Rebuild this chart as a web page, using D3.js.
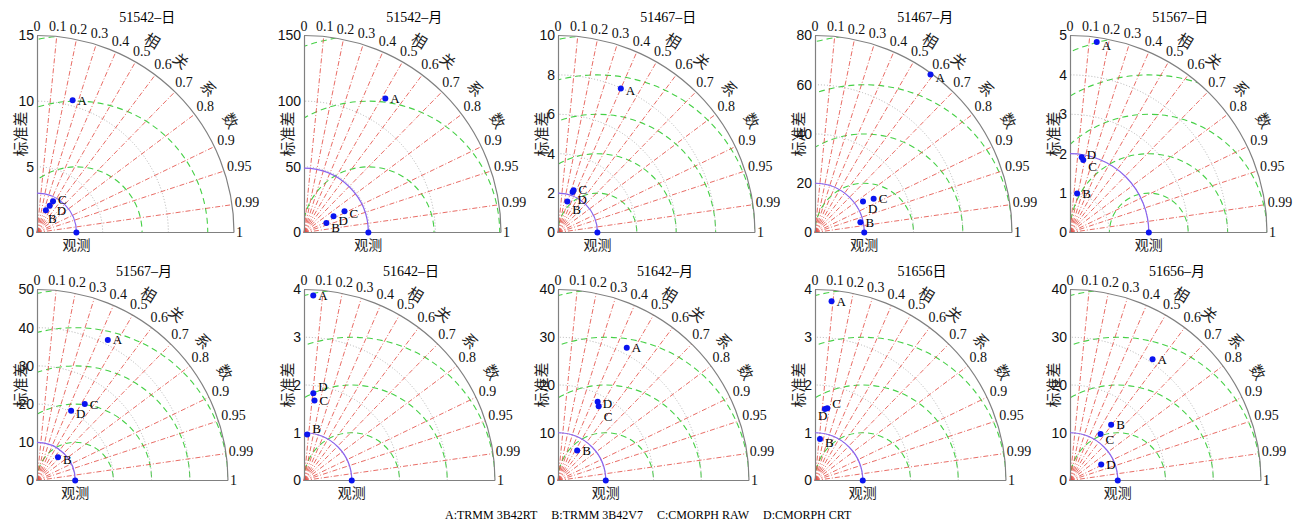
<!DOCTYPE html>
<html lang="zh">
<head>
<meta charset="UTF-8">
<title>Taylor diagrams</title>
<script src="https://d3js.org/d3.v7.min.js"></script>
<style>
  body { margin: 0; background: #fff; }
  svg { display: block; font-family: "Liberation Serif", "Noto Sans CJK SC", serif; }
  .tick text { font-size: 14px; fill: #111; }
  .cn { font-family: "Noto Sans CJK SC", sans-serif; fill: #222; }
</style>
</head>
<body>
<div id="chart"></div>
<script>
// one entry per panel, left to right, top row then bottom row
const panelTitles = ["51542\u2013日", "51542\u2013月", "51467\u2013日", "51467\u2013月", "51567\u2013日",
                     "51567\u2013月", "51642\u2013日", "51642\u2013月", "51656日", "51656\u2013月"];
const stdMax = [15, 150, 10, 80, 5, 50, 4, 40, 4, 40];
const stdTicks = [
  [0, 5, 10, 15], [0, 50, 100, 150], [0, 2, 4, 6, 8, 10], [0, 20, 40, 60, 80], [0, 1, 2, 3, 4, 5],
  [0, 10, 20, 30, 40, 50], [0, 1, 2, 3, 4], [0, 10, 20, 30, 40], [0, 1, 2, 3, 4], [0, 10, 20, 30, 40]
];
const rmsStep = [5, 50, 2, 20, 1, 10, 1, 10, 1, 10];
const obsStd = [3, 49, 2, 20, 2, 10, 1, 10, 1, 10];

const pointNames = ["A", "B", "C", "D"];
const pointStd = [
  [10.43, 1.83, 2.68, 2.25],
  [119.3, 18.5, 34.8, 25.7],
  [7.97, 1.64, 2.28, 2.18],
  [79.5, 18.9, 27.5, 23.2],
  [4.88, 1.007, 1.87, 1.93],
  [41.2, 8.2, 23.6, 20.3],
  [3.88, 0.965, 1.69, 1.84],
  [31.3, 7.44, 17.75, 18.45],
  [3.77, 0.875, 1.536, 1.514],
  [30.7, 14.5, 11.64, 7.34]
];
const pointCor = [
  [0.26, 0.37, 0.455, 0.43],
  [0.519, 0.92, 0.886, 0.876],
  [0.40, 0.29, 0.347, 0.34],
  [0.59, 0.975, 0.866, 0.84],
  [0.139, 0.18, 0.18, 0.154],
  [0.45, 0.67, 0.53, 0.44],
  [0.05, 0.07, 0.13, 0.106],
  [0.46, 0.54, 0.48, 0.45],
  [0.092, 0.119, 0.168, 0.137],
  [0.563, 0.594, 0.55, 0.89]
];

const corTicks = [0, 0.1, 0.2, 0.3, 0.4, 0.5, 0.6, 0.7, 0.8, 0.9, 0.95, 0.99, 1];
const corTitle = ["相", "关", "系", "数"];
const corTitleAngle = [59, 50, 40, 30];
const legendItems = ["A:TRMM 3B42RT", "B:TRMM 3B42V7", "C:CMORPH RAW", "D:CMORPH CRT"];

const W = 1305, H = 527;
const colX = [37, 304, 558, 815, 1070];
const rowY = [232.5, 480.5];
const rowR = [197, 191];

// label nudges (px) for the A-D marker names, so close points stay readable
const labelDy = [
  [0, 8, -2, 5], [0, 5, 2, 4], [2, 8, -1, 7], [3, 0, 0, 7], [3, 0, 6, -3],
  [0, 2, 0, 3], [0, -6, 0, -7], [0, 0, 10, 2], [0, 3, -5, 7], [0, 0, 5, 0]
];
function labelDx(i, k) {
  if (i === 8 && k === 3) return -7;
  if (i === 0 && k === 1) return 2;
  if (i === 0 && k === 3) return 7;
  return 5;
}

const svg = d3.select("#chart").append("svg")
  .attr("width", W)
  .attr("height", H);

panelTitles.forEach((title, i) => {
  const ox = colX[i % 5], oy = rowY[Math.floor(i / 5)], R = rowR[Math.floor(i / 5)];
  const r = d3.scaleLinear().domain([0, stdMax[i]]).range([0, R]);
  const g = svg.append("g");

  const toXY = (s, c) => [ox + r(s) * c, oy - r(s) * Math.sqrt(1 - c * c)];
  const arc = rad => `M${ox + rad},${oy} A${rad},${rad} 0 0 0 ${ox},${oy - rad}`;

  // clip to the quarter disc
  const clipId = "clip" + i;
  svg.append("clipPath").attr("id", clipId)
    .append("path")
    .attr("d", `M${ox},${oy} L${ox + R},${oy} A${R},${R} 0 0 0 ${ox},${oy - R} Z`);

  // RMS circles around the observation
  const rms = d3.range(rmsStep[i], stdMax[i] + obsStd[i] + 0.001, rmsStep[i]);
  g.append("g").attr("clip-path", `url(#${clipId})`)
    .selectAll("circle")
    .data(rms)
    .join("circle")
    .attr("cx", ox + r(obsStd[i]))
    .attr("cy", oy)
    .attr("r", d => r(d))
    .attr("fill", "none")
    .attr("stroke", "#46d046")
    .attr("stroke-width", 1.1)
    .attr("stroke-dasharray", "6,4");

  // std arcs
  g.selectAll("path.std")
    .data(stdTicks[i].filter(t => t > 0 && t < stdMax[i]))
    .join("path")
    .attr("class", "std")
    .attr("d", d => arc(r(d)))
    .attr("fill", "none")
    .attr("stroke", "#aaa")
    .attr("stroke-width", 0.9)
    .attr("stroke-dasharray", "1,2");

  // correlation rays
  g.selectAll("line.cor")
    .data(corTicks.filter(c => c > 0 && c < 1))
    .join("line")
    .attr("class", "cor")
    .attr("x1", ox).attr("y1", oy)
    .attr("x2", d => toXY(stdMax[i], d)[0])
    .attr("y2", d => toXY(stdMax[i], d)[1])
    .attr("stroke", "#e2483f")
    .attr("stroke-width", 0.8)
    .attr("stroke-dasharray", "5,2,1,2");

  // outer arc and axes
  g.append("path").attr("d", arc(R))
    .attr("fill", "none").attr("stroke", "#808080").attr("stroke-width", 1.2);
  g.append("line")
    .attr("x1", ox).attr("y1", oy).attr("x2", ox + R).attr("y2", oy)
    .attr("stroke", "#808080").attr("stroke-width", 1.2);

  const y = d3.scaleLinear().domain([0, stdMax[i]]).range([oy, oy - R]);
  const yAxis = g.append("g")
    .attr("transform", `translate(${ox},0)`)
    .call(d3.axisLeft(y).tickValues(stdTicks[i]).tickSize(0).tickPadding(3).tickFormat(d3.format("d")));
  yAxis.select(".domain").attr("stroke", "#808080").attr("stroke-width", 1.2);

  // observation arc
  g.append("path").attr("d", arc(r(obsStd[i])))
    .attr("fill", "none").attr("stroke", "#8a63ee").attr("stroke-width", 1.2);

  // correlation labels
  corTicks.forEach(c => {
    const th = Math.acos(c);
    const t = g.append("text")
      .attr("font-size", 14)
      .attr("fill", "#111")
      .attr("text-anchor", "middle")
      .attr("dominant-baseline", "central")
      .text(String(c));
    const w = t.node().getComputedTextLength();
    const d = R + 2 + (w / 2) * Math.cos(th) + 7 * Math.sin(th);
    t.attr("x", ox + d * Math.cos(th)).attr("y", oy - d * Math.sin(th));
  });

  // 相关系数 along the arc
  corTitle.forEach((ch, k) => {
    const th = corTitleAngle[k] * Math.PI / 180;
    const d = R * 1.14;
    g.append("text")
      .attr("class", "cn")
      .attr("font-size", 15)
      .attr("text-anchor", "middle")
      .attr("dominant-baseline", "central")
      .attr("transform", `translate(${ox + d * Math.cos(th)},${oy - d * Math.sin(th)}) rotate(${90 - corTitleAngle[k]})`)
      .text(ch);
  });

  // axis names
  g.append("text")
    .attr("class", "cn")
    .attr("font-size", 15)
    .attr("text-anchor", "middle")
    .attr("dominant-baseline", "central")
    .attr("transform", `translate(${ox - 18},${oy - R / 2}) rotate(-90)`)
    .text("标准差");
  g.append("text")
    .attr("class", "cn")
    .attr("font-size", 14)
    .attr("text-anchor", "middle")
    .attr("x", ox + r(obsStd[i]))
    .attr("y", oy + 17)
    .text("观测");

  // title
  g.append("text")
    .attr("font-size", 14)
    .attr("text-anchor", "middle")
    .attr("x", ox + R * 0.56)
    .attr("y", oy - R - 14)
    .text(title);

  // observation and products
  g.append("circle")
    .attr("cx", ox + r(obsStd[i])).attr("cy", oy).attr("r", 3)
    .attr("fill", "#0a14f0");

  const pts = pointNames.map((n, k) => ({ name: n, k: k, xy: toXY(pointStd[i][k], pointCor[i][k]) }));
  g.selectAll("circle.pt")
    .data(pts)
    .join("circle")
    .attr("class", "pt")
    .attr("cx", d => d.xy[0])
    .attr("cy", d => d.xy[1])
    .attr("r", 3)
    .attr("fill", "#0a14f0");
  g.selectAll("text.pt")
    .data(pts)
    .join("text")
    .attr("class", "pt")
    .attr("font-size", 13)
    .attr("dominant-baseline", "central")
    .attr("x", d => d.xy[0] + labelDx(i, d.k))
    .attr("y", d => d.xy[1] + labelDy[i][d.k])
    .text(d => d.name);
});

// legend
const legend = svg.append("text")
  .attr("font-size", 12)
  .attr("y", 519);
let lx = 445;
legendItems.forEach(s => {
  const t = legend.append("tspan").attr("x", lx).text(s);
  lx += t.node().getComputedTextLength() + 14;
});
</script>
</body>
</html>
